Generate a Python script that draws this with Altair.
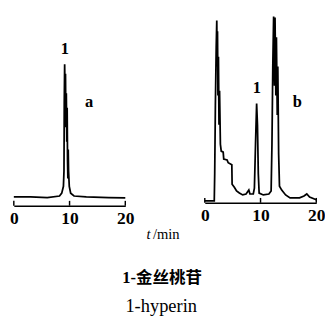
import altair as alt
import pandas as pd

# ---- data ----
a_time = [0, 3, 6, 8.2, 8.6, 8.9, 9.0, 9.05, 9.12, 9.2, 9.27, 9.35, 9.42, 9.5, 9.57,
          9.64, 9.7, 9.76, 9.82, 9.95, 10.2, 10.8, 13, 17, 20]
a_signal = [4.6, 4.6, 4.3, 5.1, 6.6, 10.2, 18.3, 54.1, 74.5, 56.6, 69.4, 41.3, 59.2, 33.7, 51.5,
            23.4, 14.3, 29.6, 18.3, 10.2, 6.6, 5.1, 4.6, 4.3, 4.1]

b_time = [0, 1.7, 1.78, 1.9, 2.05, 2.15, 2.22, 2.28, 2.36, 2.45, 2.55, 2.65, 2.8, 2.95, 3.3,
          3.4, 4.0, 4.2, 4.85, 4.9, 5.3, 5.7, 6.2, 6.8, 7.4, 7.9, 8.1, 8.7, 8.9, 9.1,
          9.3, 9.45, 9.6, 9.75, 10.5, 11.5, 11.9, 12.05, 12.2, 12.35, 12.5, 12.6, 12.75, 12.85, 13.0,
          13.1, 13.25, 13.4, 13.8, 14.5, 15.3, 17.0, 17.8, 18.3, 18.8, 20]
b_signal = [1.0, 1.0, 15.6, 52.1, 83.3, 97.4, 72.9, 91.7, 57.3, 78.1, 41.7, 59.9, 31.3, 27.6, 27.1,
            23.4, 22.9, 21.4, 20.3, 9.9, 8.3, 6.3, 5.2, 4.2, 4.7, 6.8, 4.7, 4.7, 7.8, 31.3,
            53.1, 41.7, 15.6, 5.2, 4.2, 4.7, 6.3, 31.3, 72.9, 99.5, 62.5, 99.0, 57.3, 88.5, 46.9,
            72.9, 26.0, 8.9, 6.8, 4.2, 2.6, 2.6, 3.6, 4.7, 3.1, 1.6]

tick_values = [0, 10, 20]

a_label_text = ["1", "a"]
a_label_t = [9.17, 13.5]
a_label_v = [82.5, 54.5]

b_label_text = ["1", "b"]
b_label_t = [9.34, 16.6]
b_label_v = [61.5, 53.6]

title_italic = "t"
title_rest = "/min"
caption_cn = "1-金丝桃苷"
caption_en = "1-hyperin"

# ---- styling ----
SERIF = "Liberation Serif, Times New Roman, serif"
CJK = "Liberation Serif, Noto Sans CJK SC, sans-serif"
W = 115
HA = 196
HB = 193

x_scale = alt.Scale(domain=[0, 20], nice=False, padding=0, zero=False)
y_scale = alt.Scale(domain=[0, 100], nice=False, zero=False)
x_axis = alt.Axis(values=tick_values, tickSize=0, domainColor="black", domainWidth=1.5,
                  labelFont=SERIF, labelFontSize=18, labelFontWeight="bold", labelColor="black",
                  labelPadding=4, labelFlush=False, labelOverlap=False, grid=False, title=None)


def panel(time, signal, ltext, lt, lv, H):
    df = pd.DataFrame({"t": time, "v": signal})
    line = alt.Chart(df).mark_line(color="black", strokeWidth=1.8, strokeJoin="miter").encode(
        x=alt.X("t:Q", scale=x_scale, axis=x_axis),
        y=alt.Y("v:Q", scale=y_scale, axis=None),
    )
    ticks = alt.Chart(pd.DataFrame({"t": tick_values})).mark_rule(color="black", strokeWidth=1.5).encode(
        x=alt.X("t:Q", scale=x_scale, axis=x_axis),
        y=alt.value(H),
        y2=alt.value(H - 5),
    )
    labels = alt.Chart(pd.DataFrame({"t": lt, "v": lv, "s": ltext})).mark_text(
        font=SERIF, fontSize=17, fontWeight="bold", color="black", baseline="middle"
    ).encode(
        x=alt.X("t:Q", scale=x_scale, axis=x_axis),
        y=alt.Y("v:Q", scale=y_scale, axis=None),
        text="s:N",
    )
    return [line, ticks, labels]


one = pd.DataFrame({"k": [0]})
t_it = alt.Chart(one).mark_text(text=title_italic, font=SERIF, fontSize=15, fontStyle="italic",
                                color="black", align="center", baseline="middle").encode(
    x=alt.value(139), y=alt.value(225))
t_rest = alt.Chart(one).mark_text(text=title_rest, font=SERIF, fontSize=15,
                                  color="black", align="left", baseline="middle").encode(
    x=alt.value(143.5), y=alt.value(225))
cap1 = alt.Chart(one).mark_text(text=caption_cn, font=CJK, fontSize=17, fontWeight="bold",
                                color="black", align="center", baseline="middle").encode(
    x=alt.value(153), y=alt.value(271))
cap2 = alt.Chart(one).mark_text(text=caption_en, font=SERIF, fontSize=19,
                                color="black", align="center", baseline="middle").encode(
    x=alt.value(152), y=alt.value(300))

pa = alt.layer(*panel(a_time, a_signal, a_label_text, a_label_t, a_label_v, HA),
               t_it, t_rest, cap1, cap2).properties(width=W, height=HA)
pb = alt.layer(*panel(b_time, b_signal, b_label_text, b_label_t, b_label_v, HB)).properties(width=W, height=HB)

chart = alt.hconcat(pa, pb, spacing=82, bounds="flush").properties(
    padding={"left": 1, "top": 0, "right": 0, "bottom": 0},
    background="white",
).configure_view(stroke=None)

chart.save("out.html", embed_options={"renderer": "svg", "actions": False})
